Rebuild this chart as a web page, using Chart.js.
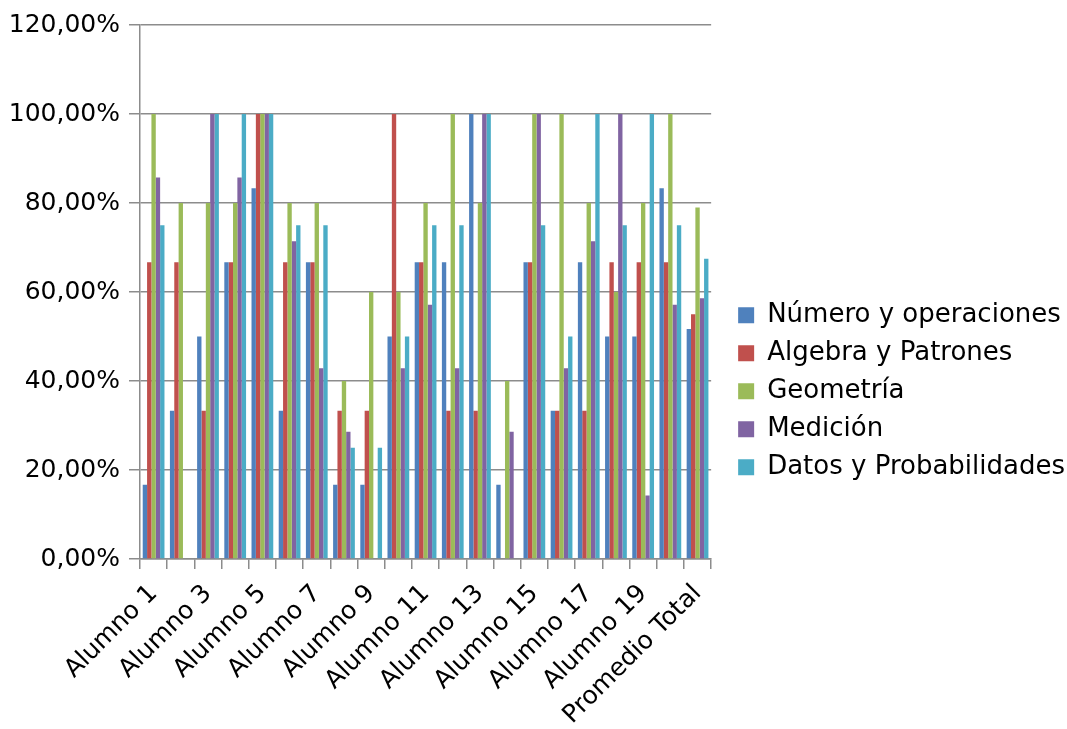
<!DOCTYPE html>
<html>
<head>
<meta charset="utf-8">
<script src="https://cdn.jsdelivr.net/npm/chart.js@4/dist/chart.umd.min.js"></script>
<style>
  html, body { margin: 0; padding: 0; background: #ffffff; }
  #wrap { width: 1067px; height: 729px; }
</style>
</head>
<body>
<div id="wrap"><canvas id="c" width="1067" height="729"></canvas></div>
<script>
// Percentage of correct answers per student and strand
const categories = [
  'Alumno 1', 'Alumno 2', 'Alumno 3', 'Alumno 4', 'Alumno 5', 'Alumno 6', 'Alumno 7',
  'Alumno 8', 'Alumno 9', 'Alumno 10', 'Alumno 11', 'Alumno 12', 'Alumno 13', 'Alumno 14',
  'Alumno 15', 'Alumno 16', 'Alumno 17', 'Alumno 18', 'Alumno 19', 'Alumno 20', 'Promedio Total'
];

const numeroOperaciones = [16.67, 33.33, 50.00, 66.67, 83.33, 33.33, 66.67, 16.67, 16.67, 50.00, 66.67, 66.67, 100.00, 16.67, 66.67, 33.33, 66.67, 50.00, 50.00, 83.33, 51.67];
const algebraPatrones   = [66.67, 66.67, 33.33, 66.67, 100.00, 66.67, 66.67, 33.33, 33.33, 100.00, 66.67, 33.33, 33.33, 0.00, 66.67, 33.33, 33.33, 66.67, 66.67, 66.67, 55.00];
const geometria         = [100.00, 80.00, 80.00, 80.00, 100.00, 80.00, 80.00, 40.00, 60.00, 60.00, 80.00, 100.00, 80.00, 40.00, 100.00, 100.00, 80.00, 60.00, 80.00, 100.00, 79.00];
const medicion          = [85.71, 0.00, 100.00, 85.71, 100.00, 71.43, 42.86, 28.57, 0.00, 42.86, 57.14, 42.86, 100.00, 28.57, 100.00, 42.86, 71.43, 100.00, 14.29, 57.14, 58.57];
const datosProbabilidad = [75.00, 0.00, 100.00, 100.00, 100.00, 75.00, 75.00, 25.00, 25.00, 50.00, 75.00, 75.00, 100.00, 0.00, 75.00, 50.00, 100.00, 75.00, 100.00, 75.00, 67.50];

const seriesNames = ['Número y operaciones', 'Algebra y Patrones', 'Geometría', 'Medición', 'Datos y Probabilidades'];
const seriesColors = ['#4F81BD', '#C0504D', '#9BBB59', '#8064A2', '#4BACC6'];
const yTicks = [0, 20, 40, 60, 80, 100, 120];

const seriesValues = [numeroOperaciones, algebraPatrones, geometria, medicion, datosProbabilidad];
const gridColor = '#8c8c8c';
const FONT = 'DejaVu Sans';

const datasets = seriesValues.map((vals, i) => ({
  label: seriesNames[i],
  data: vals,
  backgroundColor: seriesColors[i],
  borderWidth: 0,
  categoryPercentage: 0.8,
  barPercentage: 1.0
}));

new Chart(document.getElementById('c'), {
  type: 'bar',
  data: { labels: categories, datasets },
  options: {
    responsive: false,
    animation: false,
    layout: { padding: { left: 10, top: 25, right: -8, bottom: 0 } },
    plugins: {
      tooltip: { enabled: false },
      legend: {
        position: 'right',
        maxWidth: 420,
        title: { display: true, text: ' ', font: { size: 12 }, padding: 7 },
        labels: {
          color: '#000000',
          font: { family: FONT, size: 26 },
          boxWidth: 16,
          boxHeight: 16,
          padding: 12
        }
      }
    },
    scales: {
      x: {
        grid: {
          display: true,
          drawOnChartArea: false,
          drawTicks: true,
          tickLength: 10,
          color: gridColor,
          lineWidth: 1.5,
          offset: true
        },
        border: { display: true, color: gridColor, width: 1.5 },
        ticks: {
          autoSkip: false,
          maxRotation: 45,
          minRotation: 45,
          padding: 10,
          color: '#000000',
          font: { family: FONT, size: 25 },
          callback: function (value, index) {
            return index % 2 === 0 ? this.getLabelForValue(value) : '';
          }
        },
        afterFit: (s) => { s.height = 170; }
      },
      y: {
        min: 0,
        max: 120,
        afterBuildTicks: (s) => { s.ticks = yTicks.map(v => ({ value: v })); },
        grid: {
          color: gridColor,
          lineWidth: 1.5,
          drawTicks: true,
          tickLength: 11
        },
        border: { display: true, color: gridColor, width: 1.5 },
        ticks: {
          padding: 9,
          color: '#000000',
          font: { family: FONT, size: 25 },
          callback: (v) => v.toFixed(2).replace('.', ',') + '%'
        },
        afterFit: (s) => { s.width = 130; }
      },
      gap: {
        position: 'right',
        display: true,
        grid: { display: false },
        border: { display: false },
        ticks: { display: false },
        afterFit: (s) => { s.width = 15; }
      }
    }
  }
});
</script>
</body>
</html>
